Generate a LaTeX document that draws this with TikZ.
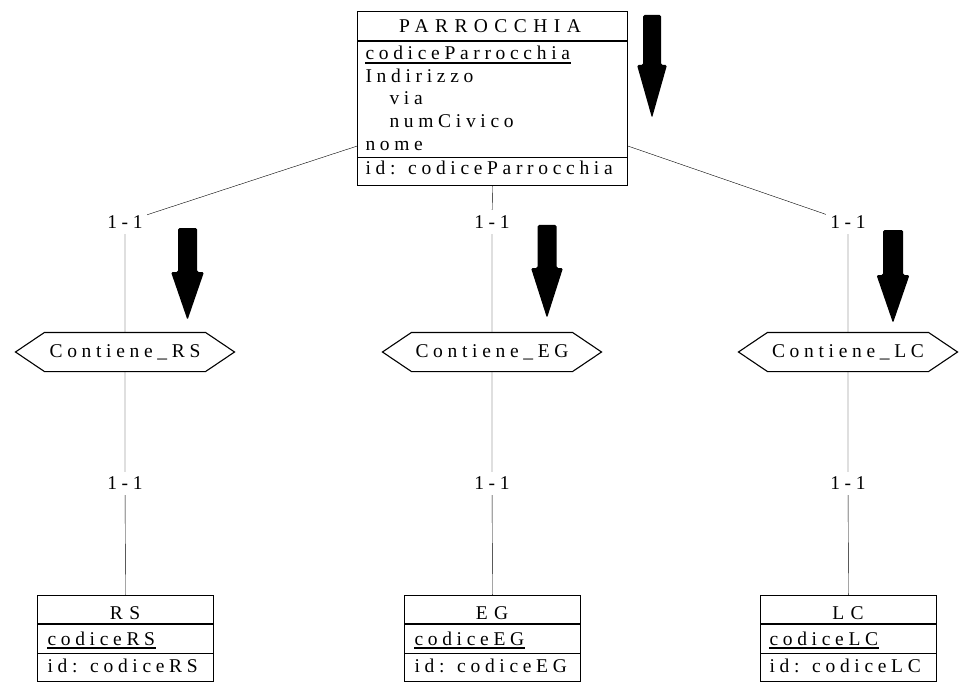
\documentclass[tikz,border=0pt]{standalone}
\usepackage{fontspec}
\setmainfont{Liberation Serif}[LetterSpace=24]
\usetikzlibrary{backgrounds}
\newcommand\dnarrow[6]{%
  \fill[rounded corners=1.5pt] ({#1-#5},#2) -- ({#1-#5},#3) -- ({#1-#6},#3) -- (#1,#4) -- ({#1+#6},#3) -- ({#1+#5},#3) -- ({#1+#5},#2) -- cycle;}
\newcommand\hexframe[1]{%
  \draw (#1.north west) -- (#1.north east) -- ([xshift=29pt]#1.east) -- (#1.south east) -- (#1.south west) -- ([xshift=-29pt]#1.west) -- cycle;}
\begin{document}
\begin{tikzpicture}[x=1pt,y=-1pt, font=\fontsize{19.5pt}{23pt}\selectfont,
  line width=1.1pt,
  box/.style={draw, inner sep=0pt, anchor=north west},
  txt/.style={inner sep=0pt, anchor=base west},
  ttl/.style={inner sep=0pt, anchor=base, font=\fontsize{19.5pt}{23pt}\selectfont\addfontfeature{LetterSpace=33}},
  rel/.style={inner sep=0pt, minimum width=160pt, minimum height=38pt},
  card/.style={fill=white, inner sep=0pt, minimum width=44pt, minimum height=23pt}]
\useasboundingbox (0,0) rectangle (970,698);
% PARROCCHIA
\node[box, minimum width=270pt, minimum height=174pt] (P) at (357,11) {};
\draw ([yshift=-30pt]P.north west) -- ([yshift=-30pt]P.north east);
\draw ([yshift=29pt]P.south west) -- ([yshift=29pt]P.south east);
\node[ttl] (Pt) at (490,33) {PARROCCHIA};
\node[txt] (Pa1) at (365,60) {codiceParrocchia};
\draw ([yshift=-3pt]Pa1.base west) -- ([yshift=-3pt]Pa1.base east);
\node[txt] (Pa2) at (365,83) {Indirizzo};
\node[txt] (Pa3) at (389,105) {via};
\node[txt] (Pa4) at (389,128) {numCivico};
\node[txt] (Pa5) at (365,151) {nome};
\node[txt] (Pid) at (365,175) {id: codiceParrocchia};
% relationships
\node[rel] (R1) at (125,352) {Contiene\_RS}; \hexframe{R1}
\node[rel] (R2) at (492,352) {Contiene\_EG}; \hexframe{R2}
\node[rel] (R3) at (848,352) {Contiene\_LC}; \hexframe{R3}
% entities
\node[box, minimum width=176pt, minimum height=86pt] (E1) at (37,595) {};
\draw ([yshift=-29pt]E1.north west) -- ([yshift=-29pt]E1.north east);
\draw ([yshift=29pt]E1.south west) -- ([yshift=29pt]E1.south east);
\node[ttl] (E1t) at (125,619) {RS};
\node[txt] (E1a) at (47,645) {codiceRS};
\draw ([yshift=-3pt]E1a.base west) -- ([yshift=-3pt]E1a.base east);
\node[txt] (E1i) at (47,672) {id: codiceRS};
\node[box, minimum width=176pt, minimum height=86pt] (E2) at (404,595) {};
\draw ([yshift=-29pt]E2.north west) -- ([yshift=-29pt]E2.north east);
\draw ([yshift=29pt]E2.south west) -- ([yshift=29pt]E2.south east);
\node[ttl] (E2t) at (492,619) {EG};
\node[txt] (E2a) at (414,645) {codiceEG};
\draw ([yshift=-3pt]E2a.base west) -- ([yshift=-3pt]E2a.base east);
\node[txt] (E2i) at (414,672) {id: codiceEG};
\node[box, minimum width=176pt, minimum height=86pt] (E3) at (760,595) {};
\draw ([yshift=-29pt]E3.north west) -- ([yshift=-29pt]E3.north east);
\draw ([yshift=29pt]E3.south west) -- ([yshift=29pt]E3.south east);
\node[ttl] (E3t) at (848,619) {LC};
\node[txt] (E3a) at (769,645) {codiceLC};
\draw ([yshift=-3pt]E3a.base west) -- ([yshift=-3pt]E3a.base east);
\node[txt] (E3i) at (769,672) {id: codiceLC};
% cardinality labels
\node[card] (L1) at (125,222) {1-1};
\node[card] (L2) at (492,222) {1-1};
\node[card] (L3) at (848,222) {1-1};
\node[card] (L4) at (125,483) {1-1};
\node[card] (L5) at (492,483) {1-1};
\node[card] (L6) at (848,483) {1-1};
\begin{pgfonlayer}{background}
\draw ([yshift=40pt]P.south west) -- (L1.center) -- (R1.north);
\draw (P.south) -- (L2.center) -- (R2.north);
\draw ([yshift=40pt]P.south east) -- (L3.center) -- (R3.north);
\draw (R1.south) -- (L4.center) -- (E1.north);
\draw (R2.south) -- (L5.center) -- (E2.north);
\draw (R3.south) -- (L6.center) -- (E3.north);
\end{pgfonlayer}
% arrows
\dnarrow{652}{15}{65}{118}{9}{15}
\dnarrow{187.5}{228}{272}{320}{9.5}{16.5}
\dnarrow{547}{225}{268}{318}{9.5}{16}
\dnarrow{893}{230}{275}{323}{10}{16.5}
\end{tikzpicture}
\end{document}
